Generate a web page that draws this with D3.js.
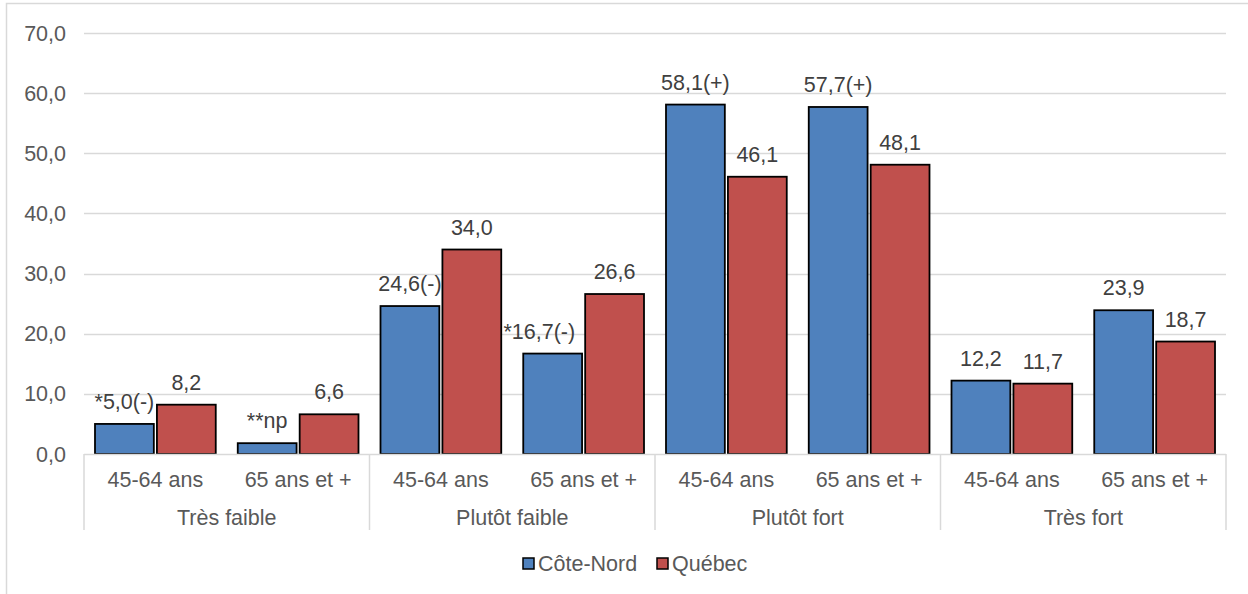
<!DOCTYPE html>
<html>
<head>
<meta charset="utf-8">
<script src="https://cdn.jsdelivr.net/npm/d3@7"></script>
<style>
  html, body { margin: 0; padding: 0; background: #fff; }
  svg { display: block; }
  text { font-family: "Liberation Sans", Arial, sans-serif; }
</style>
</head>
<body>
<script>
// ---- data ----
const groups = ["Très faible", "Plutôt faible", "Plutôt fort", "Très fort"];
const ages = ["45-64 ans", "65 ans et +"];
const series = ["Côte-Nord", "Québec"];
const coteNord = [5.0, 1.8, 24.6, 16.7, 58.1, 57.7, 12.2, 23.9];
const quebec = [8.2, 6.6, 34.0, 26.6, 46.1, 48.1, 11.7, 18.7];
const coteNordLabels = ["*5,0(-)", "**np", "24,6(-)", "*16,7(-)", "58,1(+)", "57,7(+)", "12,2", "23,9"];
const quebecLabels = ["8,2", "6,6", "34,0", "26,6", "46,1", "48,1", "11,7", "18,7"];
const yTicks = [0, 10, 20, 30, 40, 50, 60, 70];

(function () {
// ---- layout ----
const W = 1248, H = 594;
const mLeft = 84, mRight = 1226, mTop = 33, mBottom = 454;
const colors = { "Côte-Nord": "#4F81BD", "Québec": "#C0504D" };
const FS = 21.5;

const svg = d3.select("body").append("svg").attr("width", W).attr("height", H);

// outer border
svg.append("rect").attr("x", 6.5).attr("y", 3.5).attr("width", W + 10).attr("height", H + 10)
  .attr("fill", "none").attr("stroke", "#d9d9d9").attr("stroke-width", 1.5);

const slots = [];
groups.forEach((g, gi) => ages.forEach((a, ai) => slots.push({ g, a, i: gi * ages.length + ai })));

const y = d3.scaleLinear().domain([0, 70]).range([mBottom, mTop]);
const x = d3.scaleBand().domain(slots.map(d => d.i)).range([mLeft, mRight]).padding(0);
const xs = d3.scaleBand().domain(series).range([11, x.bandwidth() - 11]).paddingInner(0.05);

// grid
svg.append("g").selectAll("line").data(yTicks.filter(t => t > 0)).join("line")
  .attr("x1", mLeft).attr("x2", mRight)
  .attr("y1", d => Math.round(y(d)) + 0.5).attr("y2", d => Math.round(y(d)) + 0.5)
  .attr("stroke", "#d9d9d9").attr("stroke-width", 1.3);

// y axis labels
const fmt = v => d3.format(".1f")(v).replace(".", ",");
svg.append("g").selectAll("text").data(yTicks).join("text")
  .attr("x", 66).attr("y", d => y(d)).attr("dy", "0.35em")
  .attr("text-anchor", "end").attr("fill", "#595959").attr("font-size", FS)
  .text(fmt);

// bars
const barData = [];
slots.forEach(s => {
  barData.push({ s: "Côte-Nord", i: s.i, v: coteNord[s.i], other: quebec[s.i], label: coteNordLabels[s.i] });
  barData.push({ s: "Québec", i: s.i, v: quebec[s.i], other: null, label: quebecLabels[s.i] });
});
svg.append("g").selectAll("rect").data(barData).join("rect")
  .attr("x", d => x(d.i) + xs(d.s))
  .attr("width", xs.bandwidth())
  .attr("y", d => y(d.v))
  .attr("height", d => y(0) - y(d.v))
  .attr("fill", d => colors[d.s])
  .attr("stroke", "#000").attr("stroke-width", 1.8);

// data labels
svg.append("g").selectAll("text").data(barData).join("text")
  .attr("x", d => x(d.i) + xs(d.s) + xs.bandwidth() / 2)
  .attr("y", d => y(d.v) - 15)
  .attr("text-anchor", "middle").attr("fill", "#404040").attr("font-size", FS)
  .text(d => d.label)
  .each(function (d) {
    // shift label left when it would run into the taller neighbouring bar
    if (d.other === null || d.other <= d.v) return;
    const w = this.getComputedTextLength();
    const cx = x(d.i) + xs(d.s) + xs.bandwidth() / 2;
    const nextLeft = x(d.i) + xs(series[1]);
    if (cx + w / 2 > nextLeft) d3.select(this).attr("x", nextLeft - 10 - w / 2);
  });

// x axis baseline
svg.append("line").attr("x1", mLeft).attr("x2", mRight).attr("y1", mBottom + 0.5).attr("y2", mBottom + 0.5)
  .attr("stroke", "#d9d9d9").attr("stroke-width", 1.5);

// group separators
const seps = d3.range(groups.length + 1).map(k => mLeft + k * ages.length * x.step());
svg.append("g").selectAll("line").data(seps).join("line")
  .attr("x1", d => d).attr("x2", d => d).attr("y1", mBottom).attr("y2", 530)
  .attr("stroke", "#d9d9d9").attr("stroke-width", 1.5);

// sub labels
svg.append("g").selectAll("text").data(slots).join("text")
  .attr("x", d => x(d.i) + x.bandwidth() / 2).attr("y", 479).attr("dy", "0.35em")
  .attr("text-anchor", "middle").attr("fill", "#595959").attr("font-size", FS)
  .text(d => d.a);

// group labels
svg.append("g").selectAll("text").data(groups).join("text")
  .attr("x", (d, gi) => (seps[gi] + seps[gi + 1]) / 2).attr("y", 517).attr("dy", "0.35em")
  .attr("text-anchor", "middle").attr("fill", "#595959").attr("font-size", FS)
  .text(d => d);

// legend
const legend = svg.append("g");
const legendX = [523, 657];
series.forEach((s, k) => {
  legend.append("rect").attr("x", legendX[k]).attr("y", 558).attr("width", 11).attr("height", 11)
    .attr("fill", colors[s]).attr("stroke", "#000").attr("stroke-width", 1.5);
  legend.append("text").attr("x", legendX[k] + 15).attr("y", 563.5).attr("dy", "0.35em")
    .attr("fill", "#595959").attr("font-size", FS).text(s);
});
})();
</script>
</body>
</html>
